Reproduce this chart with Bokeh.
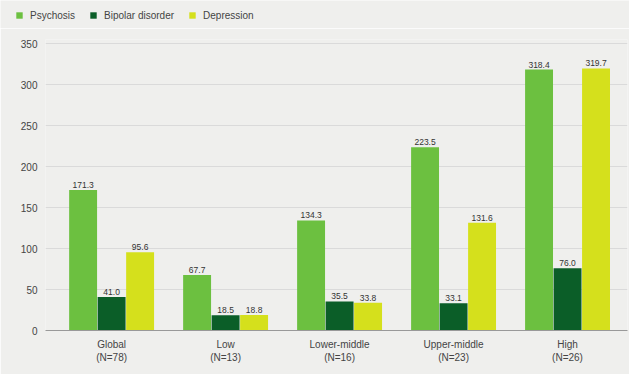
from bokeh.plotting import figure
from bokeh.layouts import column, row
from bokeh.models import ColumnDataSource, FixedTicker, Range1d, Legend, LegendItem
from bokeh.core.properties import value
from bokeh.embed import file_html
from bokeh.resources import INLINE

categories = ["Global\n(N=78)", "Low\n(N=13)", "Lower-middle\n(N=16)", "Upper-middle\n(N=23)", "High\n(N=26)"]
psychosis = [171.3, 67.7, 134.3, 223.5, 318.4]
bipolar = [41.0, 18.5, 35.5, 33.1, 76.0]
depression = [95.6, 18.8, 33.8, 131.6, 319.7]
series_names = ["Psychosis", "Bipolar disorder", "Depression"]
colors = ["#6cc040", "#0b5e28", "#d5e01c"]
y_ticks = [0, 50, 100, 150, 200, 250, 300, 350]

FONT = "Liberation Sans"
BG = "#efefed"

# legend strip (its own small figure so the legend is not clipped)
lg = figure(width=629, height=28, output_backend="svg", toolbar_location=None,
            x_range=Range1d(0, 1), y_range=Range1d(0, 1),
            x_axis_location=None, y_axis_location=None,
            min_border_left=0, min_border_right=0, min_border_top=0, min_border_bottom=0)
lg.grid.visible = False
lg.outline_line_color = None
lg.background_fill_color = BG
lg.border_fill_color = BG
# legend swatch renderers: one hidden point each (outside the strip's range)
swatches = [lg.vbar(x=[-5], top=[0], width=0.1, fill_color=c, line_color=None) for c in colors]
legend = Legend(items=[LegendItem(label=n, renderers=[r]) for n, r in zip(series_names, swatches)],
                orientation="horizontal", location=(15, 7), padding=0, margin=0, spacing=14,
                glyph_width=8, glyph_height=8, label_standoff=7,
                label_text_font=FONT, label_text_font_size="10px", label_text_color="#444444",
                background_fill_alpha=0, border_line_alpha=0, label_height=12)
lg.add_layout(legend)

x = list(range(len(categories)))
p = figure(width=629, height=346, output_backend="svg", toolbar_location=None,
           x_range=Range1d(-0.58, 4.526), y_range=Range1d(0, 355),
           min_border_left=45, min_border_right=2, min_border_top=11, min_border_bottom=44)
p.background_fill_color = BG
p.border_fill_color = BG
p.outline_line_color = None

offsets = [-0.25, 0.0, 0.25]
for vals, off, col in zip([psychosis, bipolar, depression], offsets, colors):
    src = ColumnDataSource(dict(x=[xi + off for xi in x], top=vals,
                                lbl=["%.1f" % v for v in vals]))
    p.vbar(x="x", top="top", width=0.245, source=src, fill_color=col, line_color=None)
    p.text(x="x", y="top", text="lbl", source=src, text_align="center", text_baseline="bottom",
           y_offset=-2, text_font_size="8.5px", text_color="#333333", text_font=value(FONT))

p.xgrid.grid_line_color = None
p.ygrid.grid_line_color = "#dadada"
p.ygrid.ticker = FixedTicker(ticks=y_ticks)

p.yaxis.ticker = FixedTicker(ticks=y_ticks)
p.yaxis.axis_line_color = None
p.yaxis.major_tick_line_color = None
p.yaxis.minor_tick_line_color = None
p.yaxis.major_label_text_font = FONT
p.yaxis.major_label_text_font_size = "10px"
p.yaxis.major_label_text_color = "#444444"
p.yaxis.major_label_standoff = 2

p.xaxis.ticker = FixedTicker(ticks=x)
p.xaxis.major_label_overrides = {i: c for i, c in enumerate(categories)}
p.xaxis.axis_line_color = "#999999"
p.xaxis.major_tick_line_color = None
p.xaxis.minor_tick_line_color = None
p.xaxis.major_label_text_font = FONT
p.xaxis.major_label_text_font_size = "10px"
p.xaxis.major_label_text_color = "#444444"
p.xaxis.major_label_standoff = 2

layout = column(row(lg, spacing=0), p, spacing=0)
html = file_html(layout, INLINE)
html = html.replace("<body>", '<body style="margin:0;background-color:%s;">' % BG, 1)
open("out.html", "w").write(html)
